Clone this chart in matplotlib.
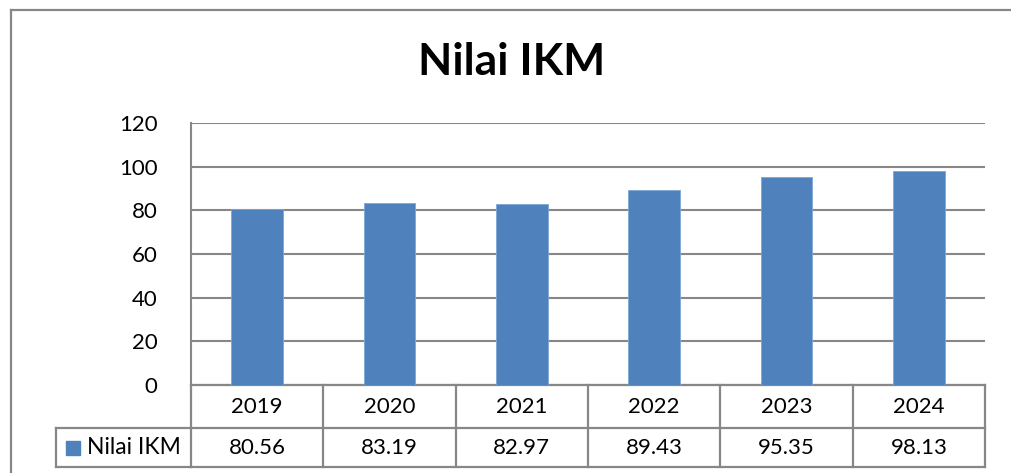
import matplotlib
matplotlib.use("Agg")
import matplotlib.pyplot as plt
from matplotlib.patches import Rectangle
from matplotlib.lines import Line2D

years = ["2019", "2020", "2021", "2022", "2023", "2024"]
values = [80.56, 83.19, 82.97, 89.43, 95.35, 98.13]
series_name = "Nilai IKM"
title = "Nilai IKM"
yticks = [0, 20, 40, 60, 80, 100, 120]

W, H = 1011, 473
DPI = 100
plt.rcParams['font.family'] = ['Lato', 'DejaVu Sans']
fig = plt.figure(figsize=(W / DPI, H / DPI), dpi=DPI)
fig.patch.set_facecolor("white")

GRAY = "#878787"
BLUE = "#4F81BD"

# outer chart border (top and left edges only visible)
fig.add_artist(Line2D([11 / W, 1.0], [1 - 10 / H, 1 - 10 / H],
                      transform=fig.transFigure, color=GRAY, lw=1.6))
fig.add_artist(Line2D([11 / W, 11 / W], [0.0, 1 - 10 / H],
                      transform=fig.transFigure, color=GRAY, lw=1.6))

L, R, T, B = 191, 985, 123, 385
ax = fig.add_axes([L / W, 1 - B / H, (R - L) / W, (B - T) / H])
ax.set_xlim(-0.5, len(years) - 0.5)
ax.set_ylim(0, 120)
x = list(range(len(years)))
ax.bar(x, values, width=0.39, color=BLUE, edgecolor="#7EA6D6", linewidth=0.6, zorder=3)
ax.set_yticks(yticks)
ax.set_yticklabels([str(t) for t in yticks], fontsize=16)
ax.tick_params(axis='y', length=0, pad=24)
ax.set_xticks([])
ax.grid(axis='y', color=GRAY, linewidth=1.5, zorder=0)
for s in ["top", "right", "bottom"]:
    ax.spines[s].set_visible(False)
ax.spines["left"].set_color(GRAY)
ax.spines["left"].set_linewidth(1.5)

# data table below the axes
ph = B - T
h1 = -(428 - B) / ph
h2 = -(467 - B) / ph
lw = 1.6
tr = ax.get_xaxis_transform()
ax.add_line(Line2D([-0.5, 5.5], [0, 0], transform=tr, color=GRAY, lw=lw, clip_on=False))
ax.add_line(Line2D([-0.5, 5.5], [h1, h1], transform=tr, color=GRAY, lw=lw, clip_on=False))
ax.add_line(Line2D([-0.5, 5.5], [h2, h2], transform=tr, color=GRAY, lw=lw, clip_on=False))
for i in range(len(years) + 1):
    xe = i - 0.5
    ax.add_line(Line2D([xe, xe], [0, h2], transform=tr, color=GRAY, lw=lw, clip_on=False))
unit = (R - L) / len(years)
lx = -0.5 - (L - 56) / unit
ax.add_line(Line2D([lx, -0.5], [h1, h1], transform=tr, color=GRAY, lw=lw, clip_on=False))
ax.add_line(Line2D([lx, -0.5], [h2, h2], transform=tr, color=GRAY, lw=lw, clip_on=False))
ax.add_line(Line2D([lx, lx], [h1, h2], transform=tr, color=GRAY, lw=lw, clip_on=False))
sq = 14 / unit
sqx = -0.5 - (L - 66) / unit
ax.add_patch(Rectangle((sqx, (h1 + h2) / 2 - 7 / ph), sq, 14 / ph, transform=tr,
                       color=BLUE, clip_on=False))
ax.text(-0.5 - (L - 87) / unit, (h1 + h2) / 2, series_name, transform=tr,
        ha="left", va="center", fontsize=16.5, clip_on=False)
for i, (yr, v) in enumerate(zip(years, values)):
    ax.text(i, h1 / 2, yr, transform=tr, ha="center", va="center", fontsize=16)
    ax.text(i, (h1 + h2) / 2, f"{v:.2f}", transform=tr, ha="center", va="center", fontsize=16)

fig.text(512 / W, 1 - 62 / H, title, ha="center", va="center",
         fontsize=32, fontweight="bold")

fig.savefig("out.png", dpi=DPI)
